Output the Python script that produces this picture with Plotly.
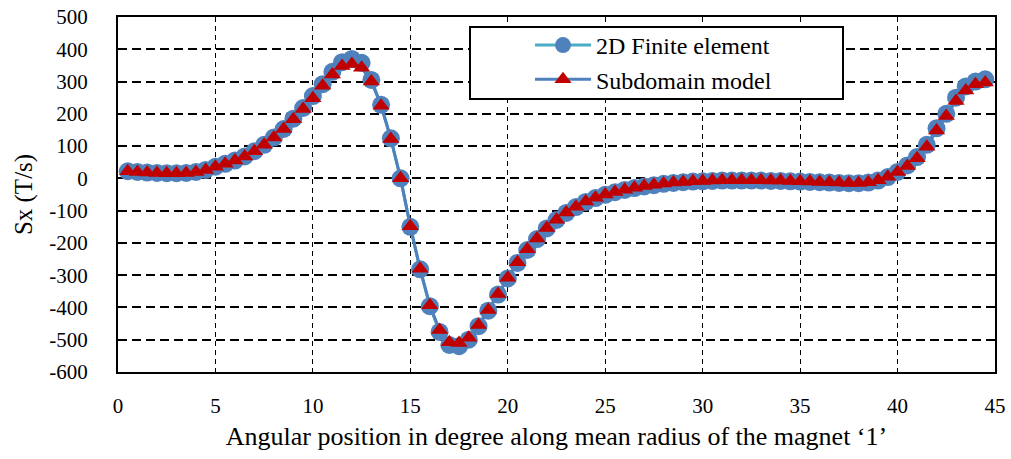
import plotly.graph_objects as go

angle = [0.5 * i for i in range(1, 90)]

subdomain = [22, 20, 18, 17, 16, 16, 17, 20, 26, 36,
             45, 55, 68, 84, 104, 127, 153, 183, 215, 248,
             287, 322, 348, 354, 343, 300, 225, 122, 0, -148,
             -280, -393, -470, -508, -510, -494, -454, -408, -358, -308,
             -260, -220, -186, -154, -128, -106, -88, -72, -60, -50,
             -42, -35, -29, -24, -20, -16, -13, -11, -9, -8,
             -7, -6, -6, -6, -6, -6, -7, -7, -8, -9,
             -10, -11, -12, -13, -14, -14, -12, -6, 5, 20,
             38, 62, 98, 148, 193, 240, 272, 292, 297]

finite_element = [22, 20, 18, 17, 16, 16, 17, 20, 26, 36,
                  45, 55, 68, 84, 104, 127, 153, 185, 218, 255,
                  292, 330, 360, 370, 358, 305, 228, 124, 0, -150,
                  -282, -396, -476, -516, -520, -500, -458, -410, -360, -310,
                  -262, -222, -188, -155, -129, -107, -89, -73, -61, -51,
                  -43, -36, -30, -25, -21, -17, -14, -12, -10, -9,
                  -8, -7, -7, -7, -7, -7, -8, -8, -9, -10,
                  -11, -12, -13, -14, -15, -15, -13, -7, 4, 20,
                  40, 66, 104, 155, 200, 250, 285, 300, 307]

x_ticks = [0, 5, 10, 15, 20, 25, 30, 35, 40, 45]
y_ticks = [-600, -500, -400, -300, -200, -100, 0, 100, 200, 300, 400, 500]

FONT = "Liberation Serif"
W, H = 1011, 459
ML, MR, MT, MB = 118, 16, 17, 87
PW, PH = W - ML - MR, H - MT - MB


def px_x(p):
    return (p - ML) / PW


def px_y(p):
    return (H - MB - p) / PH


fig = go.Figure()
fig.add_trace(go.Scatter(
    x=angle, y=finite_element, name="2D Finite element",
    mode="lines+markers",
    line=dict(color="#4BACC6", width=3),
    marker=dict(symbol="circle", size=18, color="#4F81BD"),
))
fig.add_trace(go.Scatter(
    x=angle, y=subdomain, name="Subdomain model",
    mode="lines+markers",
    line=dict(color="#4F81BD", width=3),
    marker=dict(symbol="triangle-up", size=15, color="#C00000"),
))

fig.add_shape(type="rect", xref="paper", yref="paper",
              x0=px_x(470), x1=px_x(843), y0=px_y(99), y1=px_y(27),
              line=dict(color="black", width=2), fillcolor="white", layer="above")

fig.update_layout(
    width=W, height=H,
    margin=dict(l=ML, r=MR, t=MT, b=MB, autoexpand=False),
    paper_bgcolor="white", plot_bgcolor="white",
    font=dict(family=FONT, size=21, color="black"),
    showlegend=True,
    legend=dict(
        x=px_x(530), y=px_y(23), xanchor="left", yanchor="top",
        bgcolor="rgba(0,0,0,0)", borderwidth=0,
        font=dict(family=FONT, size=24, color="black"),
        itemwidth=56, tracegroupgap=0,
    ),
    xaxis=dict(
        range=[0, 45], tickvals=x_ticks, ticktext=[str(v) for v in x_ticks],
        tickfont=dict(family=FONT, size=21, color="black"),
        showgrid=True, gridcolor="black", gridwidth=1.2, griddash="5px,4px",
        showline=True, linecolor="black", linewidth=2, mirror=True,
        zeroline=False, ticks="", ticklabelstandoff=14, automargin=False,
        title=dict(text="Angular position in degree along mean radius of the magnet \u20181\u2019",
                   font=dict(family=FONT, size=26, color="black"), standoff=10),
    ),
    yaxis=dict(
        range=[-600, 500], tickvals=y_ticks, ticktext=[str(v) for v in y_ticks],
        tickfont=dict(family=FONT, size=21, color="black"),
        showgrid=True, gridcolor="black", gridwidth=1.5, griddash="9px,5px",
        showline=True, linecolor="black", linewidth=2, mirror=True,
        zeroline=False, ticks="", ticklabelstandoff=24, automargin=False,
        title=dict(text="Sx (T/s)", font=dict(family=FONT, size=25, color="black"), standoff=10),
    ),
)

fig.write_html("out.html")
